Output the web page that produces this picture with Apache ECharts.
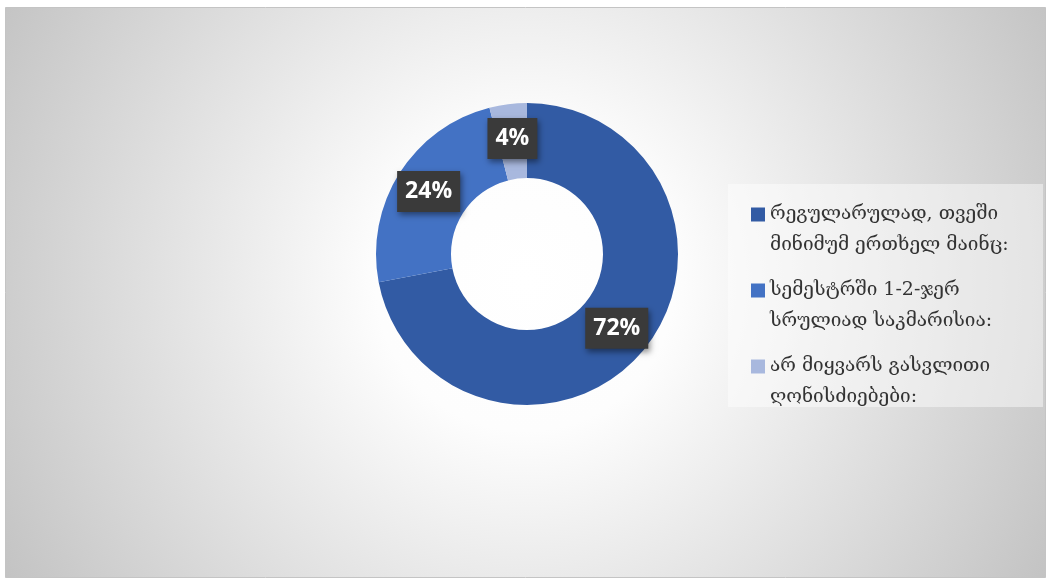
<!DOCTYPE html>
<html>
<head>
<meta charset="utf-8">
<script src="https://cdn.jsdelivr.net/npm/echarts@6/dist/echarts.min.js"></script>
<style>
  html, body { margin: 0; padding: 0; background: #ffffff; }
  #chart { width: 1049px; height: 580px; }
</style>
</head>
<body>
<div id="chart"></div>
<script>
// Answer categories and their shares (percent)
const categories = [
  'რეგულარულად, თვეში\nმინიმუმ ერთხელ მაინც:',
  'სემესტრში 1-2-ჯერ\nსრულიად საკმარისია:',
  'არ მიყვარს გასვლითი\nღონისძიებები:'
];
const shares = [72, 24, 4];
const sliceColors = ['#325ba4', '#4372c4', '#a8b8de'];

// Rich styles for legend: a square marker on the first line, indent on the next ones
const legendRich = {
  t: { fontFamily: 'DejaVu Serif', fontSize: 19, lineHeight: 31, color: '#333333' },
  g: { width: 5, height: 14, lineHeight: 31 },
  s: { width: 19, height: 14, lineHeight: 31 }
};
sliceColors.forEach((c, i) => {
  legendRich['m' + i] = { width: 14, height: 14, lineHeight: 31, backgroundColor: c };
});

const chart = echarts.init(document.getElementById('chart'));

chart.setOption({
  animation: false,
  graphic: [
    {
      type: 'rect',
      z: -10,
      shape: { x: 5.5, y: 7.5, width: 1040, height: 570 },
      style: {
        fill: {
          type: 'radial', x: 0.5, y: 0.48, r: 1.05,
          colorStops: [
            { offset: 0, color: '#ffffff' },
            { offset: 0.25, color: '#fdfdfd' },
            { offset: 1, color: '#c3c3c3' }
          ]
        },
        stroke: '#c4c4c4',
        lineWidth: 1
      }
    },
    {
      type: 'rect',
      z: -5,
      shape: { x: 728, y: 184, width: 315, height: 223 },
      style: { fill: 'rgba(255,255,255,0.45)' }
    }
  ],
  legend: {
    orient: 'vertical',
    left: 741,
    top: 194,
    icon: 'none',
    itemWidth: 0,
    itemHeight: 14,
    itemGap: 14,
    selectedMode: false,
    formatter: function (name) {
      const i = categories.indexOf(name);
      const lines = name.split('\n');
      return lines.map((line, k) =>
        (k === 0 ? '{m' + i + '|}{g|}' : '{s|}') + '{t|' + line + '}'
      ).join('\n');
    },
    textStyle: {
      fontFamily: 'DejaVu Serif',
      fontSize: 19,
      lineHeight: 31,
      color: '#333333',
      rich: legendRich
    }
  },
  series: [{
    type: 'pie',
    center: [527, 254],
    radius: [76, 151],
    startAngle: 90,
    clockwise: true,
    avoidLabelOverlap: false,
    labelLine: { show: false },
    label: {
      show: true,
      position: 'inside',
      formatter: '{c}%',
      fontFamily: 'Open Sans',
      fontWeight: 'bold',
      fontSize: 23,
      color: '#ffffff',
      backgroundColor: '#3a3a3a',
      padding: [10, 8, 8, 8],
      shadowColor: 'rgba(0,0,0,0.45)',
      shadowBlur: 6,
      shadowOffsetX: 2,
      shadowOffsetY: 3
    },
    itemStyle: { borderWidth: 0 },
    emphasis: { disabled: true },
    data: categories.map((name, i) => ({
      name: name,
      value: shares[i],
      itemStyle: { color: sliceColors[i] }
    }))
  }]
});
</script>
</body>
</html>
